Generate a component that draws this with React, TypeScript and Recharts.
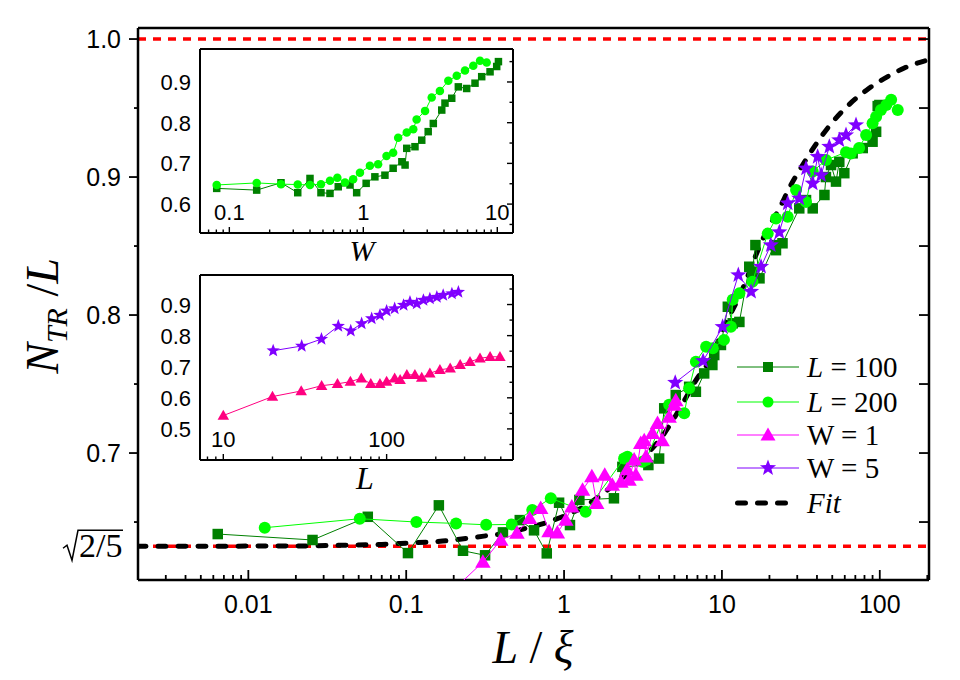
import React from 'react';
import { ComposedChart, Scatter, Line, XAxis, YAxis, ReferenceLine } from 'recharts';

const SERIF = '"Liberation Serif", "Times New Roman", Times, serif';
const SANS = '"Liberation Sans", Arial, Helvetica, sans-serif';

const SQ = Math.sqrt(2 / 5);

// ---------------- main chart data (x = L/xi, y = N_TR/L) ----------------
const mainL100: [number, number][] = [
  [0.0064, 0.6413], [0.0255, 0.637], [0.0571, 0.6538], [0.1026, 0.6275], [0.161, 0.6621],
  [0.229, 0.6292], [0.316, 0.6259], [0.41, 0.6425], [0.524, 0.6514], [0.645, 0.644],
  [0.777, 0.6273], [0.93, 0.664], [1.09, 0.6478], [1.25, 0.666], [2.07, 0.6672],
  [2.34, 0.69], [3.42, 0.6913], [4.0, 0.696], [4.31, 0.7324], [5.1, 0.742],
  [6.2, 0.748], [6.84, 0.7444], [7.72, 0.7577], [8.7, 0.7638], [8.94, 0.771],
  [9.86, 0.7783], [10.9, 0.806], [11.7, 0.794], [12.9, 0.795], [14.9, 0.835],
  [15.6, 0.8314], [16.3, 0.8507], [17.3, 0.8266], [21.5, 0.8507], [22, 0.847],
  [24.2, 0.852], [30.9, 0.8773], [34.1, 0.8833], [37.6, 0.8773], [44.6, 0.887],
  [45.6, 0.9], [49.1, 0.9087], [52.8, 0.8967], [55.4, 0.911], [59.6, 0.9028],
  [67.3, 0.9172], [78, 0.921], [90, 0.9256], [94.8, 0.9328], [97, 0.9514], [99.4, 0.9522],
];
const mainL200: [number, number][] = [
  [0.0127, 0.6459], [0.0508, 0.6524], [0.116, 0.65], [0.207, 0.649], [0.321, 0.648],
  [0.466, 0.6483], [0.629, 0.6587], [0.824, 0.6672], [1.37, 0.6575], [2.4, 0.696],
  [2.52, 0.6973], [3.14, 0.6937], [3.3, 0.695], [4.63, 0.735], [5.77, 0.7288],
  [6.2, 0.747], [6.84, 0.7662], [7.94, 0.777], [8.75, 0.776], [10.3, 0.782],
  [11.4, 0.7915], [11.7, 0.811], [12.9, 0.8157], [15.6, 0.8241], [19.5, 0.859],
  [22, 0.87], [26.1, 0.8712], [29.5, 0.8906], [34.1, 0.882], [37.6, 0.904],
  [45.6, 0.9123], [61.1, 0.918], [65.6, 0.917], [74, 0.921], [81.9, 0.9304],
  [90, 0.939], [94.8, 0.9437], [101.7, 0.9485], [110, 0.9522], [118, 0.956], [130, 0.9485],
];
const mainW1: [number, number][] = [
  [0.102, 0.54], [0.204, 0.602], [0.306, 0.621], [0.397, 0.637], [0.503, 0.642],
  [0.605, 0.6527], [0.711, 0.66], [0.803, 0.643], [0.907, 0.6422], [1.026, 0.6514],
  [1.12, 0.661], [1.31, 0.6732], [1.5, 0.683], [1.61, 0.6636], [1.81, 0.684],
  [2.02, 0.6768], [2.29, 0.679], [2.51, 0.688], [2.58, 0.6804], [2.78, 0.695],
  [2.85, 0.684], [3.06, 0.707], [3.22, 0.709], [3.3, 0.6973], [3.63, 0.7143],
  [3.91, 0.7215], [4.18, 0.709], [4.63, 0.726], [4.99, 0.7348], [5.1, 0.738],
];
const mainW5: [number, number][] = [
  [5.06, 0.751], [7.6, 0.7667], [10.1, 0.7915], [12.7, 0.829], [15.3, 0.8169],
  [17.7, 0.835], [20.4, 0.8507], [23.1, 0.86], [26.1, 0.881], [30.9, 0.8845],
  [34.1, 0.9063], [37.6, 0.8954], [40.4, 0.9147], [42.5, 0.9014], [47.9, 0.922],
  [55.4, 0.9268], [61.1, 0.9304], [70.7, 0.9377],
];
const fitCurve: [number, number][] = [
  [0.002, 0.6325], [0.02, 0.6326], [0.037, 0.6331], [0.07, 0.6338], [0.1, 0.6347],
  [0.17, 0.6362], [0.31, 0.6398], [0.43, 0.642], [0.57, 0.6454], [0.77, 0.6495],
  [1.03, 0.655], [1.38, 0.662], [1.87, 0.673], [2.51, 0.685], [3.4, 0.7],
  [4.18, 0.712], [5.21, 0.729], [6.87, 0.753], [8.55, 0.769], [10.3, 0.791],
  [13.3, 0.817], [17.2, 0.849], [19.4, 0.862], [23.1, 0.877], [26.7, 0.892],
  [31.8, 0.907], [38.5, 0.922], [47.9, 0.937], [63.2, 0.952], [84.7, 0.964],
  [113, 0.973], [143, 0.979], [205, 0.985],
];

// ---------------- inset 1 (x = W) ----------------
const in1L100: [number, number][] = [
  [0.0805, 0.6386], [0.16, 0.6344], [0.243, 0.6524], [0.324, 0.628], [0.4, 0.663],
  [0.483, 0.628], [0.564, 0.6263], [0.65, 0.6426], [0.796, 0.647], [0.892, 0.628],
  [1.05, 0.651], [1.22, 0.667], [1.45, 0.671], [1.67, 0.688], [1.94, 0.704],
  [2.05, 0.696], [2.11, 0.737], [2.43, 0.741], [2.73, 0.757], [3.05, 0.778],
  [3.33, 0.798], [3.85, 0.831], [4.07, 0.848], [4.57, 0.86], [5.12, 0.888],
  [5.91, 0.884], [6.82, 0.897], [7.65, 0.913], [8.83, 0.925], [9.9, 0.938], [10.2, 0.95],
];
const in1L200: [number, number][] = [
  [0.0805, 0.647], [0.16, 0.652], [0.243, 0.649], [0.324, 0.648], [0.4, 0.647],
  [0.483, 0.649], [0.564, 0.6575], [0.64, 0.665], [0.73, 0.653], [0.84, 0.661],
  [0.944, 0.677], [1.12, 0.694], [1.29, 0.698], [1.49, 0.718], [1.67, 0.726],
  [1.82, 0.763], [2.11, 0.776], [2.36, 0.784], [2.5, 0.808], [2.89, 0.829],
  [3.24, 0.862], [3.73, 0.878], [4.31, 0.903], [4.98, 0.915], [5.74, 0.928],
  [6.62, 0.94], [7.43, 0.952], [8.33, 0.948],
];

// ---------------- inset 2 (x = L) ----------------
const in2W1: [number, number][] = [
  [10, 0.543], [20, 0.604], [30, 0.622], [40, 0.639], [50, 0.645], [60, 0.652],
  [70, 0.663], [80, 0.645], [91, 0.645], [100, 0.652], [112, 0.663], [121, 0.658],
  [133, 0.674], [149, 0.674], [164, 0.665], [184, 0.679], [212, 0.69], [245, 0.695],
  [282, 0.706], [324, 0.716], [373, 0.727], [430, 0.732], [494, 0.732],
];
const in2W5: [number, number][] = [
  [20.2, 0.7515], [30.2, 0.7666], [39.9, 0.789], [50.6, 0.8306], [60.3, 0.8155],
  [70.3, 0.839], [81, 0.855], [91, 0.8658], [100, 0.8796], [112, 0.887], [127, 0.898],
  [139, 0.908], [153, 0.903], [168, 0.914], [184, 0.919], [203, 0.924], [222, 0.93],
  [251, 0.935], [275, 0.94],
];

// ---------------- ticks ----------------
const MAIN_X_LABELS = [0.01, 0.1, 1, 10, 100];
const MAIN_Y_LABELS = [0.7, 0.8, 0.9, 1.0];
const MAIN_Y_MINOR = [0.65, 0.75, 0.85, 0.95];
const IN1_X_LABELS = [0.1, 1, 10];
const IN1_Y_LABELS = [0.6, 0.7, 0.8, 0.9];
const IN1_Y_MINOR = [0.55, 0.65, 0.75, 0.85, 0.95];
const IN2_X_LABELS = [10, 100];
const IN2_Y_LABELS = [0.5, 0.6, 0.7, 0.8, 0.9];
const IN2_Y_MINOR = [0.45, 0.55, 0.65, 0.75, 0.85, 0.95];

function logTicks(lo: number, hi: number): number[] {
  const out: number[] = [];
  for (let e = -4; e <= 4; e++) {
    for (let m = 1; m <= 9; m++) {
      const v = +(m * Math.pow(10, e)).toPrecision(6);
      if (v > lo * 1.0001 && v < hi * 0.9999) out.push(v);
    }
  }
  return out;
}

const MAIN_X_DOMAIN: [number, number] = [0.002, 205];
const MAIN_Y_DOMAIN: [number, number] = [0.608, 1.008];
const IN1_X_DOMAIN: [number, number] = [0.0604, 13.1];
const IN1_Y_DOMAIN: [number, number] = [0.529, 0.981];
const IN2_X_DOMAIN: [number, number] = [7.2, 594];
const IN2_Y_DOMAIN: [number, number] = [0.4, 0.995];

const toObj = (a: [number, number][]) => a.map(([x, y]) => ({ x, y }));

const isDecade = (v: number) => Math.abs(Math.log10(v) - Math.round(Math.log10(v))) < 1e-6;
const near = (a: number, list: number[]) => list.some((b) => Math.abs(a - b) < 1e-6);

// ---------------- markers ----------------
type Kind = 'square' | 'circle' | 'triangle' | 'star';
function Marker({ kind, cx, cy, s, color }: { kind: Kind; cx: number; cy: number; s: number; color: string }) {
  if (cx == null || cy == null || isNaN(cx) || isNaN(cy)) return null;
  if (kind === 'square') return <rect x={cx - s / 2} y={cy - s / 2} width={s} height={s} fill={color} />;
  if (kind === 'circle') return <circle cx={cx} cy={cy} r={s / 2} fill={color} />;
  if (kind === 'triangle') {
    const w = s * 1.15;
    const h = s;
    return (
      <polygon
        points={`${cx},${cy - h * 0.58} ${cx - w / 2},${cy + h * 0.42} ${cx + w / 2},${cy + h * 0.42}`}
        fill={color}
      />
    );
  }
  const pts: string[] = [];
  for (let i = 0; i < 10; i++) {
    const r = i % 2 === 0 ? s / 2 : s * 0.21;
    const a = -Math.PI / 2 + (i * Math.PI) / 5;
    pts.push(`${cx + r * Math.cos(a)},${cy + r * Math.sin(a)}`);
  }
  return <polygon points={pts.join(' ')} fill={color} />;
}
const shapeOf = (kind: Kind, s: number, color: string) => (p: any) => (
  <Marker kind={kind} cx={p.cx} cy={p.cy} s={s} color={color} />
);

const C_L100 = '#008000';
const C_L200 = '#00ff00';
const C_W1 = '#ff00ff';
const C_W5 = '#8000ff';
const C_W1_IN = '#ff0080';

// ---------------- tick renderers ----------------
const MainXTick = (p: any) => {
  const { x, y, payload } = p;
  const v = payload.value;
  const major = isDecade(v);
  return (
    <g>
      <line x1={x} x2={x} y1={y} y2={y - (major ? 10 : 5)} stroke="#000" strokeWidth={1.8} />
      {major && near(v, MAIN_X_LABELS) && (
        <text x={x} y={y + 33} textAnchor="middle" fontFamily={SANS} fontSize={25} fill="#000">
          {String(v)}
        </text>
      )}
    </g>
  );
};

const MainYTick = (p: any) => {
  const { x, y, payload } = p;
  const v = payload.value;
  if (Math.abs(v - SQ) < 1e-6) {
    return (
      <g>
        <path
          d={`M ${x - 75} ${y + 2} L ${x - 71} ${y - 1} L ${x - 66} ${y + 14} L ${x - 60} ${y - 16} L ${x - 15} ${y - 16}`}
          fill="none"
          stroke="#000"
          strokeWidth={1.5}
        />
        <text x={x - 59} y={y + 11} fontFamily={SERIF} fontSize={34} fill="#000">
          2/5
        </text>
      </g>
    );
  }
  const major = near(v, MAIN_Y_LABELS);
  return (
    <g>
      <line x1={x} x2={x - (major ? 9 : 4)} y1={y} y2={y} stroke="#000" strokeWidth={1.8} />
      {major && (
        <text x={x - 17} y={y + 9} textAnchor="end" fontFamily={SANS} fontSize={25} fill="#000">
          {v.toFixed(1)}
        </text>
      )}
    </g>
  );
};

const RightTick = (len: number) => (p: any) => {
  const { x, y } = p;
  return <line x1={x} x2={x - len} y1={y} y2={y} stroke="#000" strokeWidth={1.8} />;
};

const InsetXTick = (labels: number[], dir: number) => (p: any) => {
  const { x, y, payload } = p;
  const v = payload.value;
  const major = isDecade(v);
  return (
    <g>
      <line x1={x} x2={x} y1={y} y2={y + dir * (major ? 6 : 3.5)} stroke="#000" strokeWidth={1.4} />
      {dir < 0 && near(v, labels) && (
        <text x={x} y={y - 13} textAnchor="middle" fontFamily={SANS} fontSize={22} fill="#000">
          {String(v)}
        </text>
      )}
    </g>
  );
};

const InsetYLabel = (p: any) => {
  const { x, y, payload } = p;
  return (
    <text x={x - 9} y={y + 8} textAnchor="end" fontFamily={SANS} fontSize={22} fill="#000">
      {Number(payload.value).toFixed(1)}
    </text>
  );
};

const InsetRightTick = (majors: number[]) => (p: any) => {
  const { x, y, payload } = p;
  const major = near(payload.value, majors);
  return <line x1={x} x2={x - (major ? 6 : 3.5)} y1={y} y2={y} stroke="#000" strokeWidth={1.4} />;
};

// ---------------- legend ----------------
const legendRows: { kind: Kind | 'fit'; color: string; y: number; label: React.ReactNode }[] = [
  { kind: 'square', color: C_L100, y: 367, label: <><tspan fontStyle="italic">L</tspan>{' = 100'}</> },
  { kind: 'circle', color: C_L200, y: 402, label: <><tspan fontStyle="italic">L</tspan>{' = 200'}</> },
  { kind: 'triangle', color: C_W1, y: 435, label: <>{'W = 1'}</> },
  { kind: 'star', color: C_W5, y: 468, label: <>{'W = 5'}</> },
  { kind: 'fit', color: '#000', y: 503, label: <tspan fontStyle="italic">Fit</tspan> },
];
const legendSize: Record<string, number> = { square: 10, circle: 11, triangle: 13, star: 17 };

export default function App() {
  const mainXTicks = logTicks(MAIN_X_DOMAIN[0], MAIN_X_DOMAIN[1]);
  const mainYTicks = [SQ, ...MAIN_Y_MINOR, ...MAIN_Y_LABELS].sort((a, b) => a - b);
  const rightYTicks = [...MAIN_Y_MINOR, ...MAIN_Y_LABELS].sort((a, b) => a - b);
  const in1XTicks = logTicks(IN1_X_DOMAIN[0], IN1_X_DOMAIN[1]);
  const in2XTicks = logTicks(IN2_X_DOMAIN[0], IN2_X_DOMAIN[1]);
  const in1YTicks = [...IN1_Y_MINOR, ...IN1_Y_LABELS].sort((a, b) => a - b);
  const in2YTicks = [...IN2_Y_MINOR, ...IN2_Y_LABELS].sort((a, b) => a - b);

  const axisLineMain = { stroke: '#000', strokeWidth: 2.5 };
  const axisLineIn = { stroke: '#000', strokeWidth: 2 };

  return (
    <div style={{ position: 'absolute', left: 0, top: 0, width: 960, height: 680, background: '#fff' }}>
      {/* main chart */}
      <div style={{ position: 'absolute', left: 0, top: 0 }}>
        <ComposedChart width={960} height={680} margin={{ top: 27, right: 30, bottom: 70, left: 78 }}>
          <XAxis
            dataKey="x"
            type="number"
            scale="log"
            domain={MAIN_X_DOMAIN}
            allowDataOverflow
            ticks={mainXTicks}
            interval={0}
            tickSize={0}
            tickMargin={0}
            tickLine={false}
            height={30}
            axisLine={axisLineMain}
            tick={MainXTick}
          />
          <XAxis
            xAxisId="top"
            orientation="top"
            type="number"
            scale="log"
            domain={MAIN_X_DOMAIN}
            allowDataOverflow
            height={1}
            ticks={[1]}
            tick={() => <g />}
            tickSize={0}
            tickLine={false}
            axisLine={axisLineMain}
          />
          <YAxis
            dataKey="y"
            type="number"
            domain={MAIN_Y_DOMAIN}
            allowDataOverflow
            ticks={mainYTicks}
            interval={0}
            tickSize={0}
            tickMargin={0}
            tickLine={false}
            width={60}
            axisLine={axisLineMain}
            tick={MainYTick}
          />
          <YAxis
            yAxisId="right"
            orientation="right"
            type="number"
            domain={MAIN_Y_DOMAIN}
            allowDataOverflow
            ticks={rightYTicks}
            interval={0}
            tickSize={0}
            tickMargin={0}
            tickLine={false}
            width={1}
            axisLine={axisLineMain}
            tick={RightTick(10)}
          />
          <ReferenceLine y={1.0} stroke="#ff0000" strokeWidth={3.5} strokeDasharray="8 7" />
          <ReferenceLine y={SQ} stroke="#ff0000" strokeWidth={3.5} strokeDasharray="8 7" />
          <Scatter
            data={toObj(mainL100)}
            fill={C_L100}
            line={{ stroke: C_L100, strokeWidth: 1 }}
            shape={shapeOf('square', 10.5, C_L100)}
            isAnimationActive={false}
          />
          <Scatter
            data={toObj(mainL200)}
            fill={C_L200}
            line={{ stroke: C_L200, strokeWidth: 1 }}
            shape={shapeOf('circle', 12, C_L200)}
            isAnimationActive={false}
          />
          <Scatter
            data={toObj(mainW1)}
            fill={C_W1}
            line={{ stroke: C_W1, strokeWidth: 1 }}
            shape={shapeOf('triangle', 13.5, C_W1)}
            isAnimationActive={false}
          />
          <Scatter
            data={toObj(mainW5)}
            fill={C_W5}
            line={{ stroke: C_W5, strokeWidth: 1 }}
            shape={shapeOf('star', 17, C_W5)}
            isAnimationActive={false}
          />
          <Line
            data={toObj(fitCurve)}
            dataKey="y"
            type="monotone"
            stroke="#000"
            strokeWidth={5}
            strokeDasharray="8 12"
            strokeLinecap="round"
            dot={false}
            activeDot={false}
            isAnimationActive={false}
          />
        </ComposedChart>
      </div>

      {/* inset 1 : vs W */}
      <div style={{ position: 'absolute', left: 150, top: 40 }}>
        <ComposedChart width={400} height={230} margin={{ top: 8, right: 36, bottom: 36, left: 10 }}>
          <XAxis
            dataKey="x"
            type="number"
            scale="log"
            domain={IN1_X_DOMAIN}
            allowDataOverflow
            ticks={in1XTicks}
            interval={0}
            tickSize={0}
            tickMargin={0}
            tickLine={false}
            height={1}
            axisLine={axisLineIn}
            tick={InsetXTick(IN1_X_LABELS, -1)}
          />
          <XAxis
            xAxisId="top"
            orientation="top"
            type="number"
            scale="log"
            domain={IN1_X_DOMAIN}
            allowDataOverflow
            ticks={in1XTicks}
            interval={0}
            tickSize={0}
            tickMargin={0}
            tickLine={false}
            height={1}
            axisLine={axisLineIn}
            tick={InsetXTick([], 1)}
          />
          <YAxis
            dataKey="y"
            type="number"
            domain={IN1_Y_DOMAIN}
            allowDataOverflow
            ticks={IN1_Y_LABELS}
            interval={0}
            tickSize={0}
            tickMargin={0}
            tickLine={false}
            width={40}
            axisLine={axisLineIn}
            tick={InsetYLabel}
          />
          <YAxis
            yAxisId="right"
            orientation="right"
            type="number"
            domain={IN1_Y_DOMAIN}
            allowDataOverflow
            ticks={in1YTicks}
            interval={0}
            tickSize={0}
            tickMargin={0}
            tickLine={false}
            width={1}
            axisLine={axisLineIn}
            tick={InsetRightTick(IN1_Y_LABELS)}
          />
          <Scatter
            data={toObj(in1L100)}
            fill={C_L100}
            line={{ stroke: C_L100, strokeWidth: 1 }}
            shape={shapeOf('square', 7.5, C_L100)}
            isAnimationActive={false}
          />
          <Scatter
            data={toObj(in1L200)}
            fill={C_L200}
            line={{ stroke: C_L200, strokeWidth: 1 }}
            shape={shapeOf('circle', 8.5, C_L200)}
            isAnimationActive={false}
          />
        </ComposedChart>
      </div>

      {/* inset 2 : vs L */}
      <div style={{ position: 'absolute', left: 150, top: 266 }}>
        <ComposedChart width={400} height={231} margin={{ top: 8, right: 36, bottom: 36, left: 10 }}>
          <XAxis
            dataKey="x"
            type="number"
            scale="log"
            domain={IN2_X_DOMAIN}
            allowDataOverflow
            ticks={in2XTicks}
            interval={0}
            tickSize={0}
            tickMargin={0}
            tickLine={false}
            height={1}
            axisLine={axisLineIn}
            tick={InsetXTick(IN2_X_LABELS, -1)}
          />
          <XAxis
            xAxisId="top"
            orientation="top"
            type="number"
            scale="log"
            domain={IN2_X_DOMAIN}
            allowDataOverflow
            ticks={in2XTicks}
            interval={0}
            tickSize={0}
            tickMargin={0}
            tickLine={false}
            height={1}
            axisLine={axisLineIn}
            tick={InsetXTick([], 1)}
          />
          <YAxis
            dataKey="y"
            type="number"
            domain={IN2_Y_DOMAIN}
            allowDataOverflow
            ticks={IN2_Y_LABELS}
            interval={0}
            tickSize={0}
            tickMargin={0}
            tickLine={false}
            width={40}
            axisLine={axisLineIn}
            tick={InsetYLabel}
          />
          <YAxis
            yAxisId="right"
            orientation="right"
            type="number"
            domain={IN2_Y_DOMAIN}
            allowDataOverflow
            ticks={in2YTicks}
            interval={0}
            tickSize={0}
            tickMargin={0}
            tickLine={false}
            width={1}
            axisLine={axisLineIn}
            tick={InsetRightTick(IN2_Y_LABELS)}
          />
          <Scatter
            data={toObj(in2W1)}
            fill={C_W1_IN}
            line={{ stroke: C_W1_IN, strokeWidth: 1 }}
            shape={shapeOf('triangle', 10, C_W1_IN)}
            isAnimationActive={false}
          />
          <Scatter
            data={toObj(in2W5)}
            fill={C_W5}
            line={{ stroke: C_W5, strokeWidth: 1 }}
            shape={shapeOf('star', 14, C_W5)}
            isAnimationActive={false}
          />
        </ComposedChart>
      </div>

      {/* titles and legend */}
      <svg
        width={960}
        height={680}
        style={{ position: 'absolute', left: 0, top: 0, pointerEvents: 'none' }}
      >
        <text
          transform="translate(58,316) rotate(-90)"
          textAnchor="middle"
          fontFamily={SERIF}
          fontSize={46}
          fill="#000"
        >
          <tspan fontStyle="italic">N</tspan>
          <tspan fontStyle="italic" fontSize={30} dy={9}>TR</tspan>
          <tspan dy={-9}>{' /'}</tspan>
          <tspan fontStyle="italic">L</tspan>
        </text>
        <text x={533} y={663} textAnchor="middle" fontFamily={SERIF} fontSize={46} fill="#000">
          <tspan fontStyle="italic">L</tspan>
          <tspan>{' / '}</tspan>
          <tspan fontStyle="italic">ξ</tspan>
        </text>
        <text x={362} y={261} textAnchor="middle" fontFamily={SERIF} fontSize={30} fontStyle="italic" fill="#000">
          W
        </text>
        <text x={365} y={489} textAnchor="middle" fontFamily={SERIF} fontSize={32} fontStyle="italic" fill="#000">
          L
        </text>
        {legendRows.map((r, i) => (
          <g key={i}>
            {r.kind === 'fit' ? (
              <line
                x1={737.5}
                x2={786}
                y1={r.y}
                y2={r.y}
                stroke="#000"
                strokeWidth={5}
                strokeDasharray="8 12"
                strokeLinecap="round"
              />
            ) : (
              <>
                <line x1={737} x2={799} y1={r.y} y2={r.y} stroke={r.color} strokeWidth={1} />
                <Marker kind={r.kind as Kind} cx={768} cy={r.y} s={legendSize[r.kind]} color={r.color} />
              </>
            )}
            <text x={807} y={r.y + 10} fontFamily={SERIF} fontSize={29} fill="#000">
              {r.label}
            </text>
          </g>
        ))}
      </svg>
    </div>
  );
}
